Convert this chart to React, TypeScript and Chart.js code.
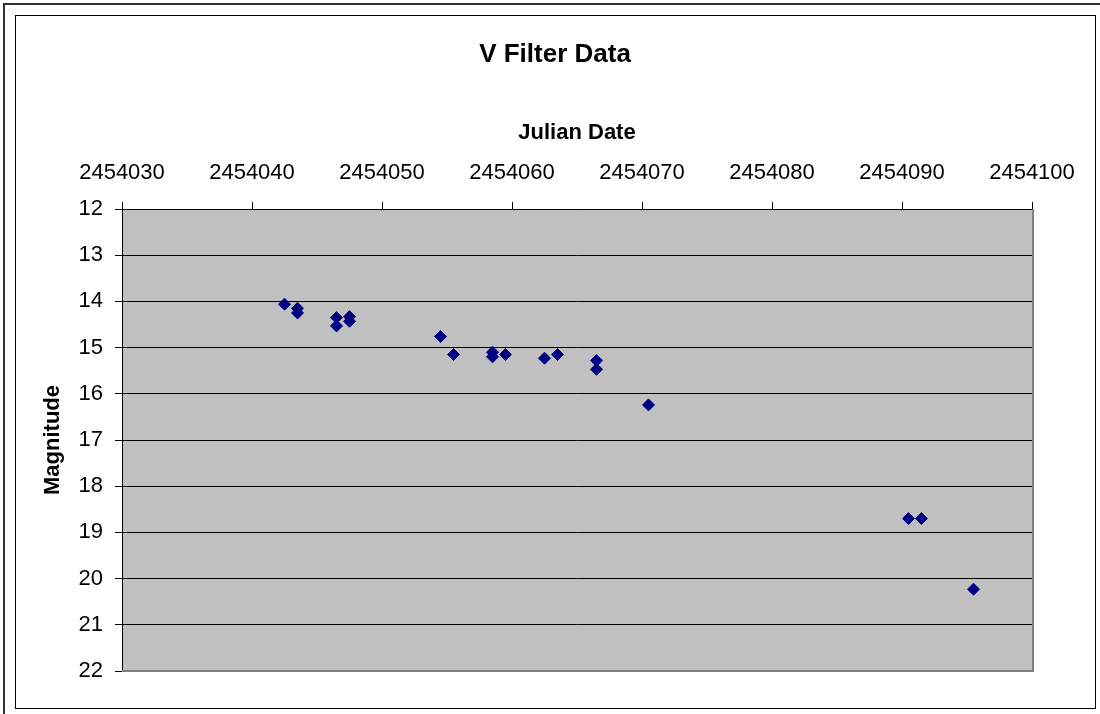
import React, { useEffect, useRef } from "react";
import { Chart, registerables } from "chart.js";

Chart.register(...registerables);

const chartTitle = "V Filter Data";
const xAxisTitle = "Julian Date";
const yAxisTitle = "Magnitude";

const julianDates = [
  2454042.5, 2454043.5, 2454043.5, 2454046.5, 2454046.5, 2454047.5, 2454047.5,
  2454054.5, 2454055.5, 2454058.5, 2454058.5, 2454059.5, 2454062.5, 2454063.5,
  2454066.5, 2454066.5, 2454070.5, 2454090.5, 2454091.5, 2454095.5,
];
const magnitudes = [
  14.06, 14.15, 14.25, 14.35, 14.53, 14.33, 14.43,
  14.76, 15.15, 15.1, 15.2, 15.15, 15.23, 15.15,
  15.28, 15.47, 16.24, 18.7, 18.7, 20.23,
];

const xMin = 2454030;
const xMax = 2454100;
const xStep = 10;
const yMin = 12;
const yMax = 22;
const yStep = 1;

const FONT = "'Liberation Sans', Arial, sans-serif";

const framePlugin = {
  id: "frame",
  beforeDraw(chart: any) {
    const { ctx, chartArea } = chart;
    ctx.save();
    ctx.fillStyle = "#ffffff";
    ctx.fillRect(0, 0, chart.width, chart.height);
    ctx.strokeStyle = "#303030";
    ctx.lineWidth = 2;
    ctx.beginPath();
    ctx.moveTo(4, chart.height + 5);
    ctx.lineTo(4, 4);
    ctx.lineTo(chart.width + 5, 4);
    ctx.stroke();
    ctx.lineWidth = 1;
    ctx.strokeStyle = "#000000";
    ctx.strokeRect(15.5, 15.5, 1080, 693);
    ctx.fillStyle = "#C0C0C0";
    ctx.fillRect(chartArea.left, chartArea.top, chartArea.right - chartArea.left, chartArea.bottom - chartArea.top);
    ctx.fillStyle = "#000000";
    ctx.font = `bold 26px ${FONT}`;
    ctx.textAlign = "center";
    ctx.textBaseline = "middle";
    ctx.fillText(chartTitle, 555, 55);
    ctx.restore();
  },
  beforeDatasetsDraw(chart: any) {
    const { ctx, chartArea } = chart;
    ctx.save();
    ctx.strokeStyle = "#808080";
    ctx.lineWidth = 2;
    ctx.beginPath();
    ctx.moveTo(chartArea.left, chartArea.bottom);
    ctx.lineTo(chartArea.right + 1, chartArea.bottom);
    ctx.lineTo(chartArea.right + 1, chartArea.top);
    ctx.stroke();
    ctx.restore();
  },
};

export default function App() {
  const ref = useRef<HTMLCanvasElement | null>(null);

  useEffect(() => {
    if (!ref.current) return;
    const points = julianDates.map((x, i) => ({ x, y: magnitudes[i] }));
    const chart = new Chart(ref.current, {
      type: "scatter",
      data: {
        datasets: [
          {
            label: "V",
            data: points,
            pointStyle: "rectRot",
            pointRadius: 6,
            pointBackgroundColor: "#000080",
            pointBorderColor: "#000080",
            pointBorderWidth: 1,
            showLine: false,
          },
        ],
      },
      options: {
        responsive: false,
        animation: false,
        layout: { padding: { left: 0, top: 0, right: 68, bottom: 43 } },
        plugins: {
          legend: { display: false },
          tooltip: { enabled: false },
          title: { display: false },
        },
        scales: {
          x: {
            type: "linear",
            position: "top",
            min: xMin,
            max: xMax,
            afterFit: (s: any) => {
              s.height = 209;
            },
            ticks: {
              stepSize: xStep,
              padding: 16,
              color: "#000",
              font: { family: FONT, size: 22 },
              callback: (v: any) => String(v),
              maxRotation: 0,
              autoSkip: false,
            },
            grid: {
              display: true,
              drawOnChartArea: false,
              drawTicks: true,
              tickLength: 7,
              color: "#000",
            },
            border: { display: true, color: "#000", width: 1 },
            title: {
              display: true,
              text: xAxisTitle,
              color: "#000",
              font: { family: FONT, size: 22, weight: "bold" },
              padding: { top: 120, bottom: 0 },
            },
          },
          y: {
            type: "linear",
            reverse: true,
            min: yMin,
            max: yMax,
            afterFit: (s: any) => {
              s.width = 122;
            },
            ticks: {
              stepSize: yStep,
              padding: 12,
              color: "#000",
              font: { family: FONT, size: 22 },
              callback: (v: any) => String(v),
            },
            grid: {
              display: true,
              drawOnChartArea: true,
              drawTicks: true,
              tickLength: 7,
              color: "#000",
              lineWidth: 1,
            },
            border: { display: true, color: "#000", width: 1 },
            title: {
              display: true,
              text: yAxisTitle,
              color: "#000",
              font: { family: FONT, size: 22, weight: "bold" },
              padding: { top: 40, bottom: 0 },
            },
          },
        },
      },
      plugins: [framePlugin],
    } as any);
    return () => chart.destroy();
  }, []);

  return (
    <div style={{ position: "absolute", left: 0, top: 0, width: 1100, height: 714 }}>
      <canvas ref={ref} width={1100} height={714} style={{ width: 1100, height: 714, display: "block" }} />
    </div>
  );
}
